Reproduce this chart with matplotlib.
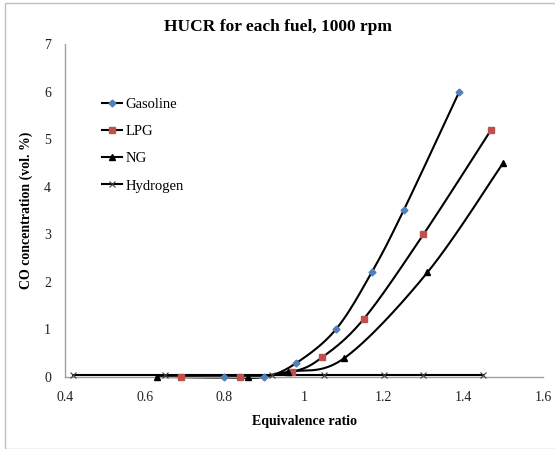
import numpy as np
import matplotlib
matplotlib.use("Agg")
import matplotlib.pyplot as plt
from matplotlib.patches import Rectangle

gas_x = [0.80, 0.90, 0.98, 1.08, 1.17, 1.25, 1.39]
gas_y = [0.0, 0.0, 0.29, 1.0, 2.2, 3.5, 6.0]
lpg_x = [0.69, 0.84, 0.97, 1.045, 1.15, 1.30, 1.47]
lpg_y = [0.0, 0.0, 0.11, 0.41, 1.22, 3.0, 5.2]
ng_x = [0.63, 0.86, 0.96, 1.10, 1.31, 1.50]
ng_y = [0.0, 0.0, 0.11, 0.39, 2.2, 4.5]
h2_x = [0.42, 0.65, 0.92, 1.05, 1.20, 1.30, 1.45]
h2_y = [0.05, 0.05, 0.05, 0.05, 0.05, 0.05, 0.05]

def excel_smooth(x, y, n=30):
    P = np.column_stack([x, y]).astype(float)
    out = [P[0]]
    m = len(P)
    for i in range(m - 1):
        p0 = P[i - 1] if i > 0 else P[i]
        p1 = P[i]
        p2 = P[i + 1]
        p3 = P[i + 2] if i + 2 < m else P[i + 1]
        c1 = p1 + (p2 - p0) / 6.0
        c2 = p2 - (p3 - p1) / 6.0
        t = np.linspace(0, 1, n)[1:, None]
        seg = ((1 - t) ** 3) * p1 + 3 * ((1 - t) ** 2) * t * c1 + 3 * (1 - t) * t ** 2 * c2 + t ** 3 * p2
        out.extend(seg)
    out = np.array(out)
    return out[:, 0], out[:, 1]

serif = ["Liberation Serif", "DejaVu Serif"]
fig = plt.figure(figsize=(5.55, 4.49), dpi=100)
fig.patches.append(Rectangle((5 / 555, 0), 1.2, 1 - 3 / 449, transform=fig.transFigure,
                             fill=False, edgecolor="#BFBFBF", lw=1.0))
ax = fig.add_axes([65 / 555, 1 - 377 / 449, (543 - 65) / 555, (377 - 44) / 449])

series = [
    ("Gasoline", gas_x, gas_y, dict(marker="D", markersize=3.5, markerfacecolor="#4F81BD", markeredgecolor="#4F81BD")),
    ("LPG", lpg_x, lpg_y, dict(marker="s", markersize=4.5, markerfacecolor="#C0504D", markeredgecolor="#C0504D")),
    ("NG", ng_x, ng_y, dict(marker="^", markersize=4.5, markerfacecolor="black", markeredgecolor="black")),
    ("Hydrogen", h2_x, h2_y, dict(marker="x", markersize=5, markeredgecolor="#404040", markeredgewidth=0.8)),
]
handles = []
for name, xs, ys, mk in series:
    sx, sy = excel_smooth(xs, ys)
    ax.plot(sx, sy, color="black", lw=1.5, zorder=2, clip_on=False)
    ax.plot(xs, ys, linestyle="none", zorder=3, clip_on=False, **mk)
    h, = ax.plot([], [], color="black", lw=1.5, **mk)
    h.set_label(name)
    handles.append(h)

ax.set_xlim(0.4, 1.6)
ax.set_ylim(0, 7)
ax.set_xticks(np.arange(0.4, 1.61, 0.2))
ax.set_xticklabels(["0.4", "0.6", "0.8", "1", "1.2", "1.4", "1.6"])
ax.set_yticks(range(0, 8))
for s in ["top", "right"]:
    ax.spines[s].set_visible(False)
for s in ["left", "bottom"]:
    ax.spines[s].set_color("#A0A0A0")
    ax.spines[s].set_linewidth(1.0)
ax.tick_params(length=0, pad=10, labelsize=10)
for lab in ax.get_xticklabels() + ax.get_yticklabels():
    lab.set_family(serif)
    lab.set_color("#202020")
ax.tick_params(axis="y", pad=10)

ax.set_xlabel("Equivalence ratio", family=serif, fontweight="bold", fontsize=10, labelpad=8)
ax.set_ylabel("CO concentration (vol. %)", family=serif, fontweight="bold", fontsize=10, labelpad=8)
fig.text(0.5, 1 - 27 / 449, "HUCR for each fuel, 1000 rpm", family=serif, fontweight="bold",
         fontsize=12.5, ha="center", va="center")

leg = ax.legend(handles=handles, loc="upper left", bbox_to_anchor=(0.065, 0.855), frameon=False,
                prop={"family": serif, "size": 10.5}, handlelength=1.4, handletextpad=0.2,
                labelspacing=0.95, borderaxespad=0)

fig.savefig("out.png", dpi=100)
